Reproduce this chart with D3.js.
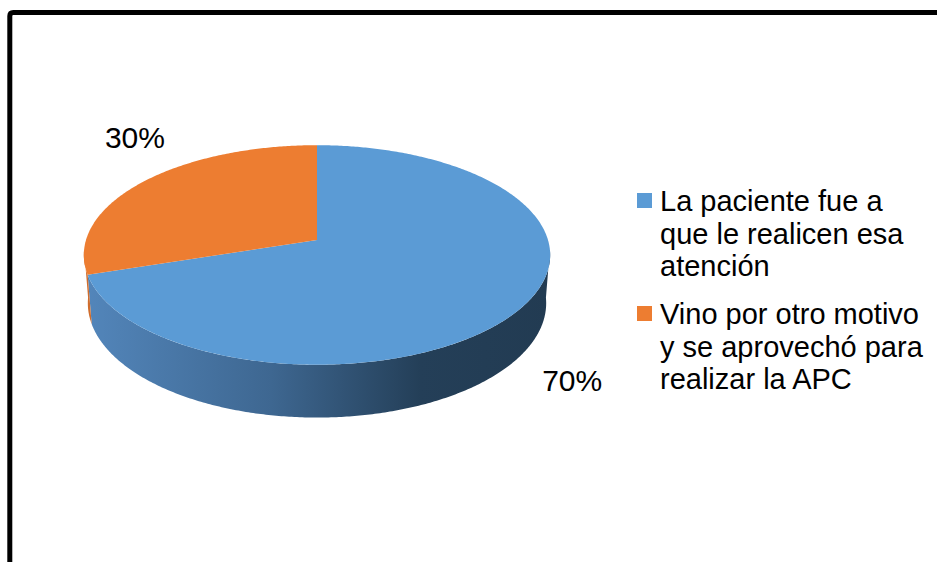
<!DOCTYPE html>
<html>
<head>
<meta charset="utf-8">
<script src="https://cdn.jsdelivr.net/npm/d3@7"></script>
<style>
  body { margin: 0; background: #fff; }
  text { font-family: "Liberation Sans", Arial, sans-serif; fill: #000; }
</style>
</head>
<body>
<svg id="chart"></svg>
<script>
// Data
const categories = ["La paciente fue a que le realicen esa atención",
                    "Vino por otro motivo y se aprovechó para realizar la APC"];
const legendLines = [["La paciente fue a", "que le realicen esa", "atención"],
                     ["Vino por otro motivo", "y se aprovechó para", "realizar la APC"]];
const values = [70, 30];
const valueLabels = ["70%", "30%"];
const topColors = ["#5b9bd5", "#ed7d31"];

const width = 939;
const height = 562;
const svg = d3.select("#chart")
  .attr("width", width)
  .attr("height", height);

// frame (top and left side only are visible)
svg.append("path")
  .attr("d", "M9.8,562 V16 Q9.8,12.5 13.3,12.5 H937")
  .attr("fill", "none")
  .attr("stroke", "#000")
  .attr("stroke-width", 5);

// 3D pie projection
const cx = 317, cy = 240;
const R = 231, depthH = 55, D = 1500;
const tilt = 27.8 * Math.PI / 180;

function project(theta, h, rad = R) {
  const X = rad * Math.sin(theta);
  const Z = -rad * Math.cos(theta);
  const depth = h * Math.sin(tilt) + Z * Math.cos(tilt);
  const s = D / (D - depth);
  return [cx + s * X, cy + s * (Z * Math.sin(tilt) - h * Math.cos(tilt))];
}

function rim(a0, a1, h) {
  const step = 0.01;
  const pts = d3.range(a0, a1, step).concat([a1]);
  return pts.map(t => project(t, h));
}

const pie = d3.pie().sort(null).value(d => d);
const arcs = pie(values);
const line = d3.line();

// gradients for side walls
const defs = svg.append("defs");
const blueGrad = defs.append("linearGradient")
  .attr("id", "wall-blue")
  .attr("gradientUnits", "userSpaceOnUse")
  .attr("x1", 84).attr("x2", 551).attr("y1", 0).attr("y2", 0);
blueGrad.append("stop").attr("offset", "0%").attr("stop-color", "#5386bb");
blueGrad.append("stop").attr("offset", "40%").attr("stop-color", "#3e6791");
blueGrad.append("stop").attr("offset", "72%").attr("stop-color", "#243f58");
blueGrad.append("stop").attr("offset", "100%").attr("stop-color", "#223b52");
const wallFills = ["url(#wall-blue)", "#d06d2d"];

// side walls (front facing part only)
const lo = 95 * Math.PI / 180, hi = 265 * Math.PI / 180;
const walls = svg.append("g").attr("class", "walls");
arcs.forEach((a, i) => {
  const w0 = Math.max(a.startAngle, lo);
  const w1 = Math.min(a.endAngle, hi);
  if (w1 <= w0) return;
  const pts = rim(w0, w1, 0).concat(rim(w0, w1, -depthH).reverse());
  walls.append("path")
    .attr("d", line(pts) + "Z")
    .attr("fill", wallFills[i]);
});

// top faces
const tops = svg.append("g").attr("class", "tops");
arcs.forEach((a, i) => {
  const pts = [[cx, cy]].concat(rim(a.startAngle, a.endAngle, 0));
  tops.append("path")
    .attr("d", line(pts) + "Z")
    .attr("fill", topColors[i]);
});

// data labels
const labelShift = [[52, 82], [-9, -33]];
arcs.forEach((a, i) => {
  const p = project((a.startAngle + a.endAngle) / 2, 0);
  svg.append("text")
    .attr("x", p[0] + labelShift[i][0])
    .attr("y", p[1] + labelShift[i][1])
    .attr("text-anchor", "middle")
    .style("font-size", "30px")
    .text(valueLabels[i]);
});

// legend
const legend = svg.append("g").attr("class", "legend");
const legendTop = [211, 324];
const lineGap = 32.5;
legendLines.forEach((lines, i) => {
  legend.append("rect")
    .attr("x", 637)
    .attr("y", legendTop[i] - 18)
    .attr("width", 15)
    .attr("height", 15)
    .attr("fill", topColors[i]);
  const t = legend.append("text")
    .attr("x", 660)
    .attr("y", legendTop[i])
    .style("font-size", "29px");
  lines.forEach((l, j) => {
    t.append("tspan")
      .attr("x", 660)
      .attr("y", legendTop[i] + j * lineGap)
      .text(l);
  });
});
</script>
</body>
</html>
